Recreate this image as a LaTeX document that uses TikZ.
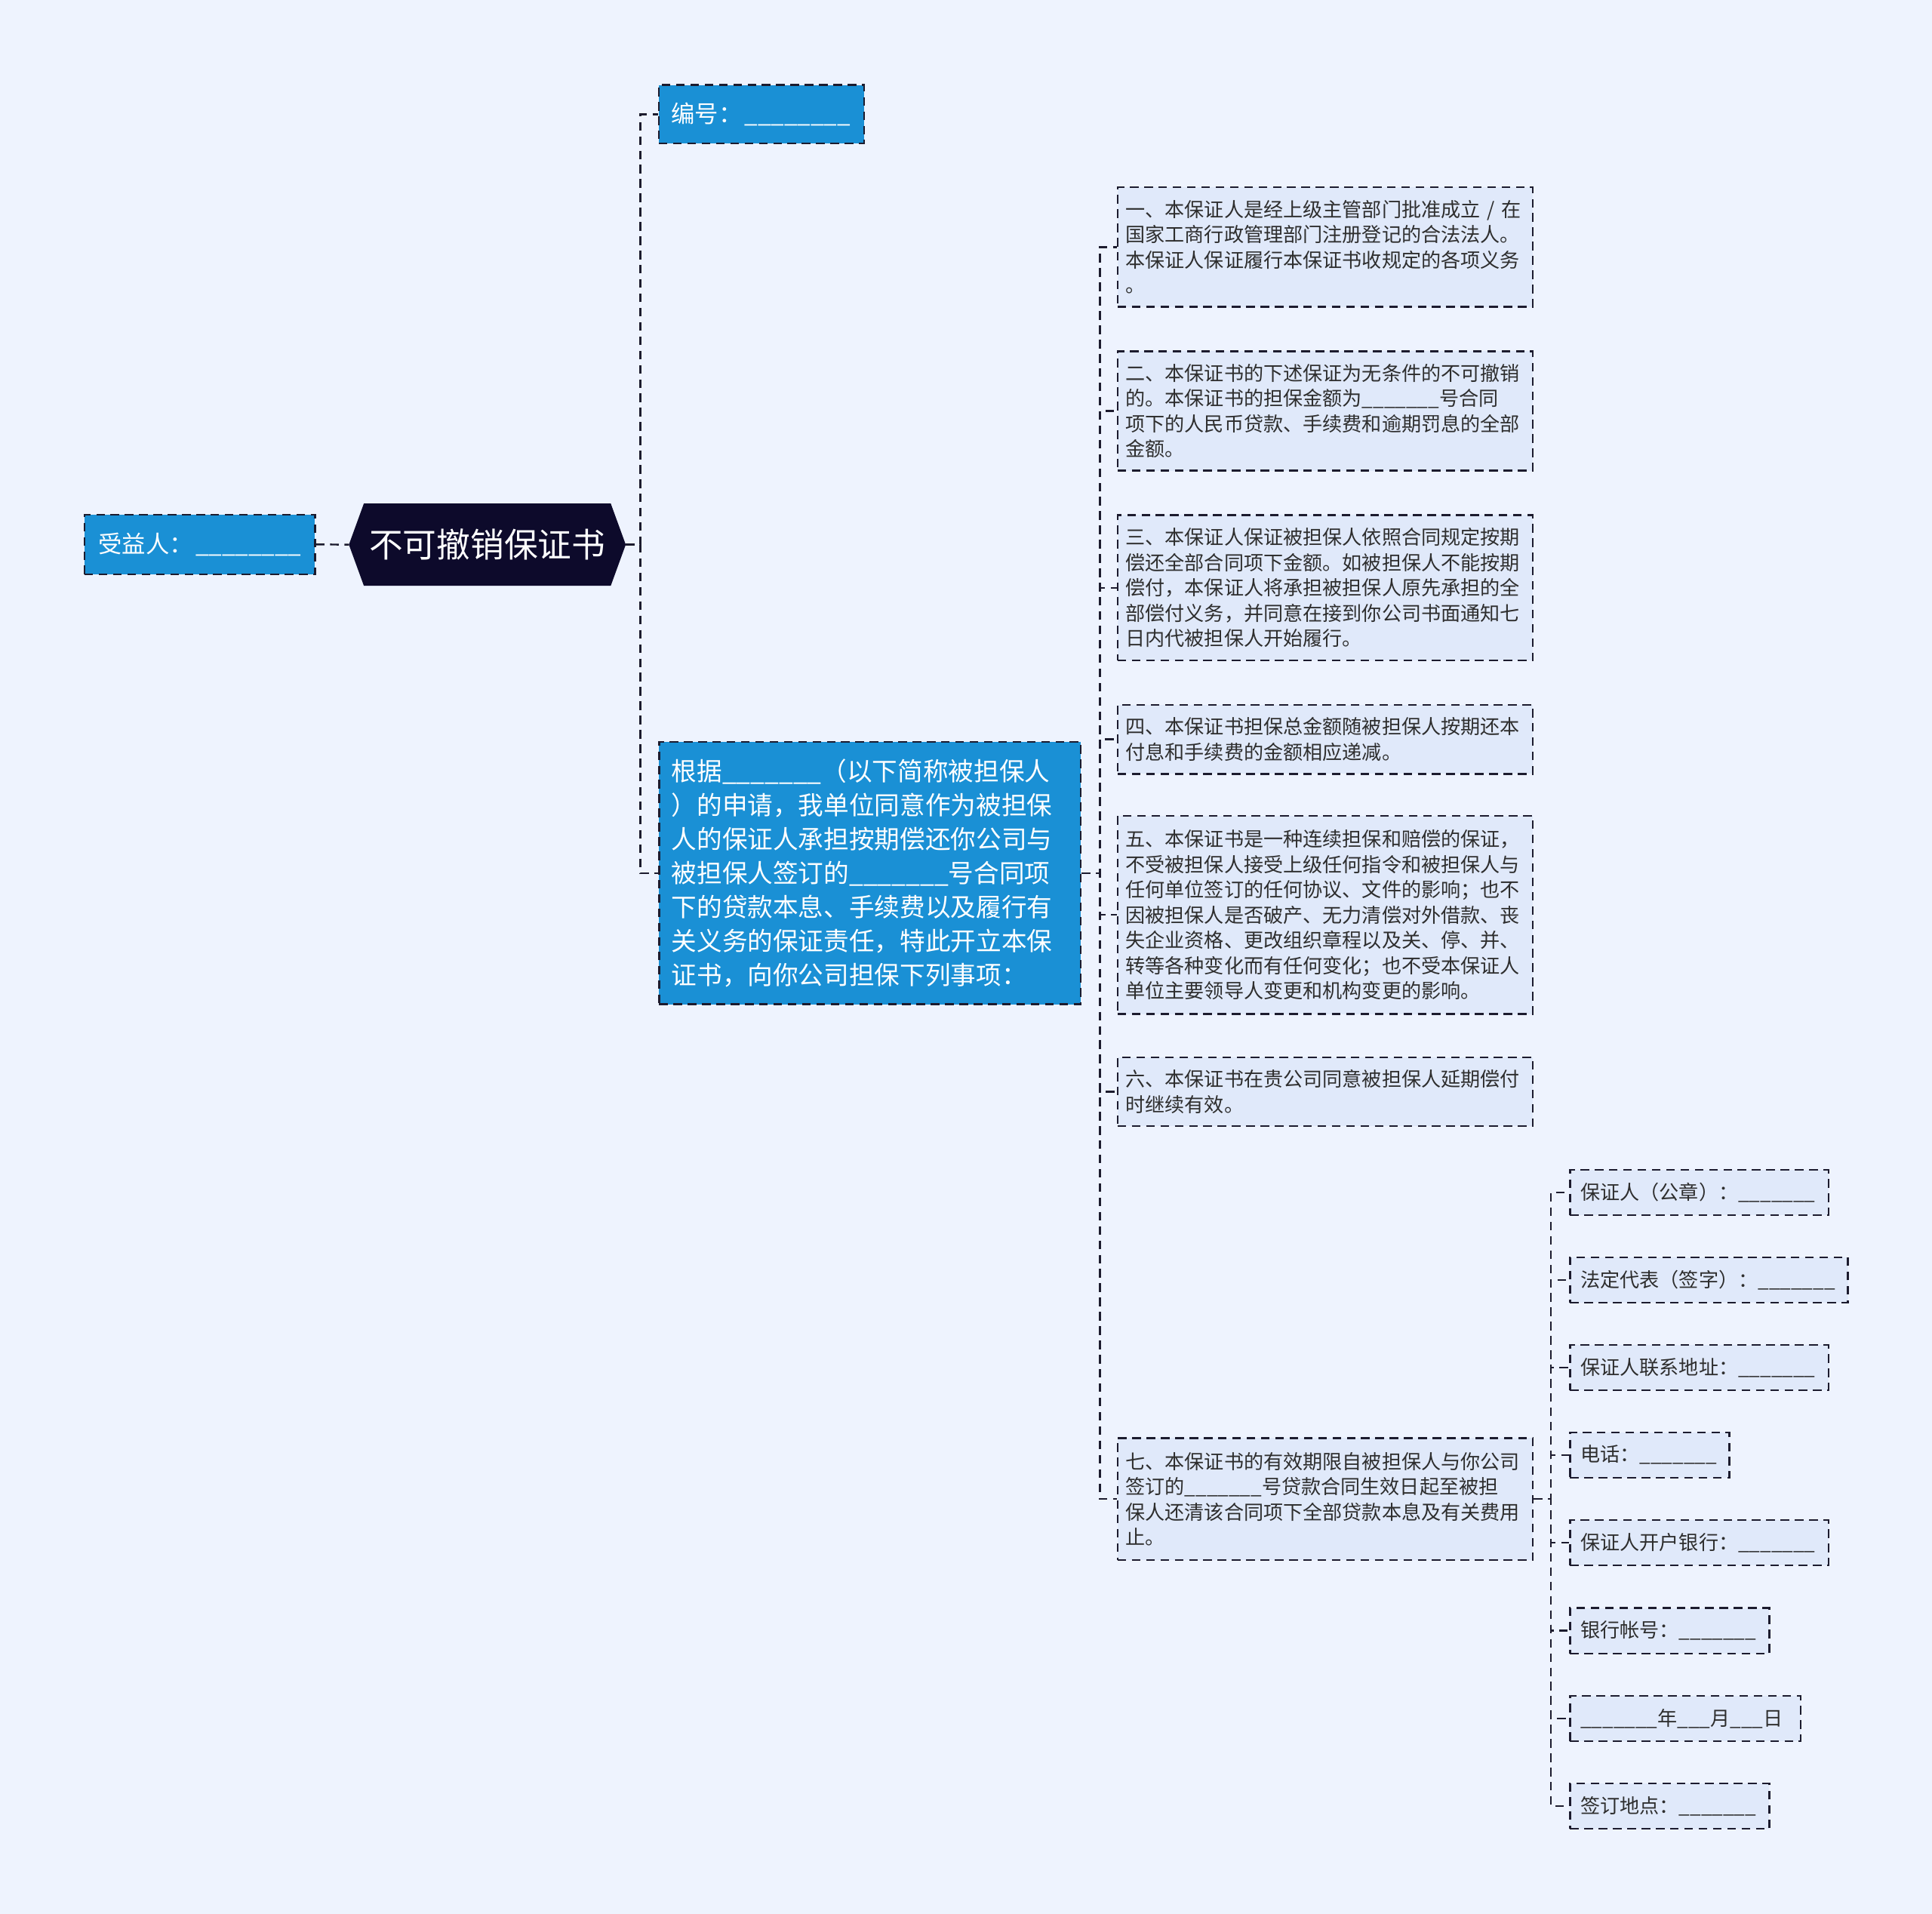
\documentclass[tikz,border=0pt]{standalone}
\usepackage{fontspec}
\setmainfont{Noto Sans CJK SC}
\usetikzlibrary{shapes.symbols}

\definecolor{bg}{HTML}{EEF3FE}
\definecolor{ink}{HTML}{1C1B2E}
\definecolor{txt}{HTML}{2E2E2E}
\definecolor{blue}{HTML}{1A90D5}
\definecolor{navy}{HTML}{0D0A2B}
\definecolor{notefill}{HTML}{E0E9FA}

\newcommand{\blankfield}{\_\_\_\_\_\_\_}

\begin{document}
\begin{tikzpicture}[x=0.5pt, y=-0.5pt,
  link/.style={draw=ink, line width=0.75pt, dash pattern=on 3.5pt off 2.3pt},
  hexa/.style={shape=signal, signal to=east and west, signal pointer angle=140,
    fill=navy, draw=navy, text=white, font=\fontsize{13.7}{16}\selectfont,
    minimum width=111.5pt, minimum height=33pt, inner sep=2pt},
  bluebox/.style={link, fill=blue, text=white, align=left},
  note/.style={link, fill=notefill, text=txt, align=left,
    font=\fontsize{8}{10.25}\selectfont, text width=162pt, inner xsep=3.25pt},
  leaf/.style={link, fill=notefill, text=txt, align=left, anchor=west,
    font=\fontsize{8}{10.25}\selectfont, inner xsep=4.25pt, minimum height=18.4pt}]

\useasboundingbox (0,0) rectangle (1568,1553);
\fill [bg] (0,0) rectangle (1568,1553);

\node [hexa] (R) at (395.5,442) {不可撤销保证书};

\node [bluebox, font=\fontsize{9.6}{12}\selectfont, text width=82.1pt,
  inner xsep=5.7pt, minimum height=24.25pt] (S) at (162.1,441.8) {受益人：\kern1pt\blankfield\_};

\node [bluebox, font=\fontsize{9.6}{12}\selectfont, text width=73.3pt,
  inner xsep=5pt, minimum height=23.7pt] (N) at (618,92.7) {编号：\kern1pt\blankfield\_};

\node [bluebox, font=\fontsize{10.3}{13.75}\selectfont, text width=161pt,
  inner xsep=5pt, minimum height=106.5pt] (G) at (706,708.5)
  {根据\blankfield（以下简称被担保人\\
  ）的申请，我单位同意作为被担保\\
  人的保证人承担按期偿还你公司与\\
  被担保人签订的\blankfield 号合同项\\
  下的贷款本息、手续费以及履行有\\
  关义务的保证责任，特此开立本保\\
  证书，向你公司担保下列事项：};

\node [note, minimum height=48.5pt] (T1) at (1075.5,200.5)
  {一、本保证人是经上级主管部门批准成立~/~在\\
  国家工商行政管理部门注册登记的合法法人。\\
  本保证人保证履行本保证书收规定的各项义务\\
  。};
\node [note, minimum height=48.5pt] (T2) at (1075.5,333.5)
  {二、本保证书的下述保证为无条件的不可撤销\\
  的。本保证书的担保金额为\blankfield 号合同\\
  项下的人民币贷款、手续费和逾期罚息的全部\\
  金额。};
\node [note, minimum height=59pt] (T3) at (1075.5,477)
  {三、本保证人保证被担保人依照合同规定按期\\
  偿还全部合同项下金额。如被担保人不能按期\\
  偿付，本保证人将承担被担保人原先承担的全\\
  部偿付义务，并同意在接到你公司书面通知七\\
  日内代被担保人开始履行。};
\node [note, minimum height=28pt] (T4) at (1075.5,600)
  {四、本保证书担保总金额随被担保人按期还本\\
  付息和手续费的金额相应递减。};
\node [note, minimum height=80.5pt] (T5) at (1075.5,742.5)
  {五、本保证书是一种连续担保和赔偿的保证，\\
  不受被担保人接受上级任何指令和被担保人与\\
  任何单位签订的任何协议、文件的影响；也不\\
  因被担保人是否破产、无力清偿对外借款、丧\\
  失企业资格、更改组织章程以及关、停、并、\\
  转等各种变化而有任何变化；也不受本保证人\\
  单位主要领导人变更和机构变更的影响。};
\node [note, minimum height=28pt] (T6) at (1075.5,886)
  {六、本保证书在贵公司同意被担保人延期偿付\\
  时继续有效。};
\node [note, minimum height=49.5pt] (T7) at (1075.5,1216.5)
  {七、本保证书的有效期限自被担保人与你公司\\
  签订的\blankfield 号贷款合同生效日起至被担\\
  保人还清该合同项下全部贷款本息及有关费用\\
  止。};

\node [leaf, text width=96.35pt] (L1) at (1273.5,967.7) {保证人（公章）：\blankfield};
\node [leaf, text width=104.25pt] (L2) at (1273.5,1038.7) {法定代表（签字）：\blankfield};
\node [leaf, text width=96.35pt] (L3) at (1273.5,1109.8) {保证人联系地址：\blankfield};
\node [leaf, text width=56.2pt] (L4) at (1273.5,1180.8) {电话：\blankfield};
\node [leaf, text width=96.35pt] (L5) at (1273.5,1252) {保证人开户银行：\blankfield};
\node [leaf, text width=72.35pt] (L6) at (1273.5,1323.4) {银行帐号：\blankfield};
\node [leaf, text width=85.1pt] (L7) at (1273.5,1394.6) {\blankfield 年\_\_\_月\_\_\_日};
\node [leaf, text width=72.35pt] (L8) at (1273.5,1465.8) {签订地点：\blankfield};

\draw [link] (S.east) -- (R.west);
\draw [link] (R.east) -- ++(12,0) |- (N.west);
\draw [link] (R.east) -- ++(12,0) |- (G.west);

\draw [link] (G.east) -- ++(15,0) |- (T1.west);
\draw [link] (G.east) -- ++(15,0) |- (T2.west);
\draw [link] (G.east) -- ++(15,0) |- (T3.west);
\draw [link] (G.east) -- ++(15,0) |- (T4.west);
\draw [link] (G.east) -- ++(15,0) |- (T5.west);
\draw [link] (G.east) -- ++(15,0) |- (T6.west);
\draw [link] (G.east) -- ++(15,0) |- (T7.west);

\draw [link] (T7.east) -- ++(14,0) |- (L1.west);
\draw [link] (T7.east) -- ++(14,0) |- (L2.west);
\draw [link] (T7.east) -- ++(14,0) |- (L3.west);
\draw [link] (T7.east) -- ++(14,0) |- (L4.west);
\draw [link] (T7.east) -- ++(14,0) |- (L5.west);
\draw [link] (T7.east) -- ++(14,0) |- (L6.west);
\draw [link] (T7.east) -- ++(14,0) |- (L7.west);
\draw [link] (T7.east) -- ++(14,0) |- (L8.west);

\end{tikzpicture}
\end{document}
